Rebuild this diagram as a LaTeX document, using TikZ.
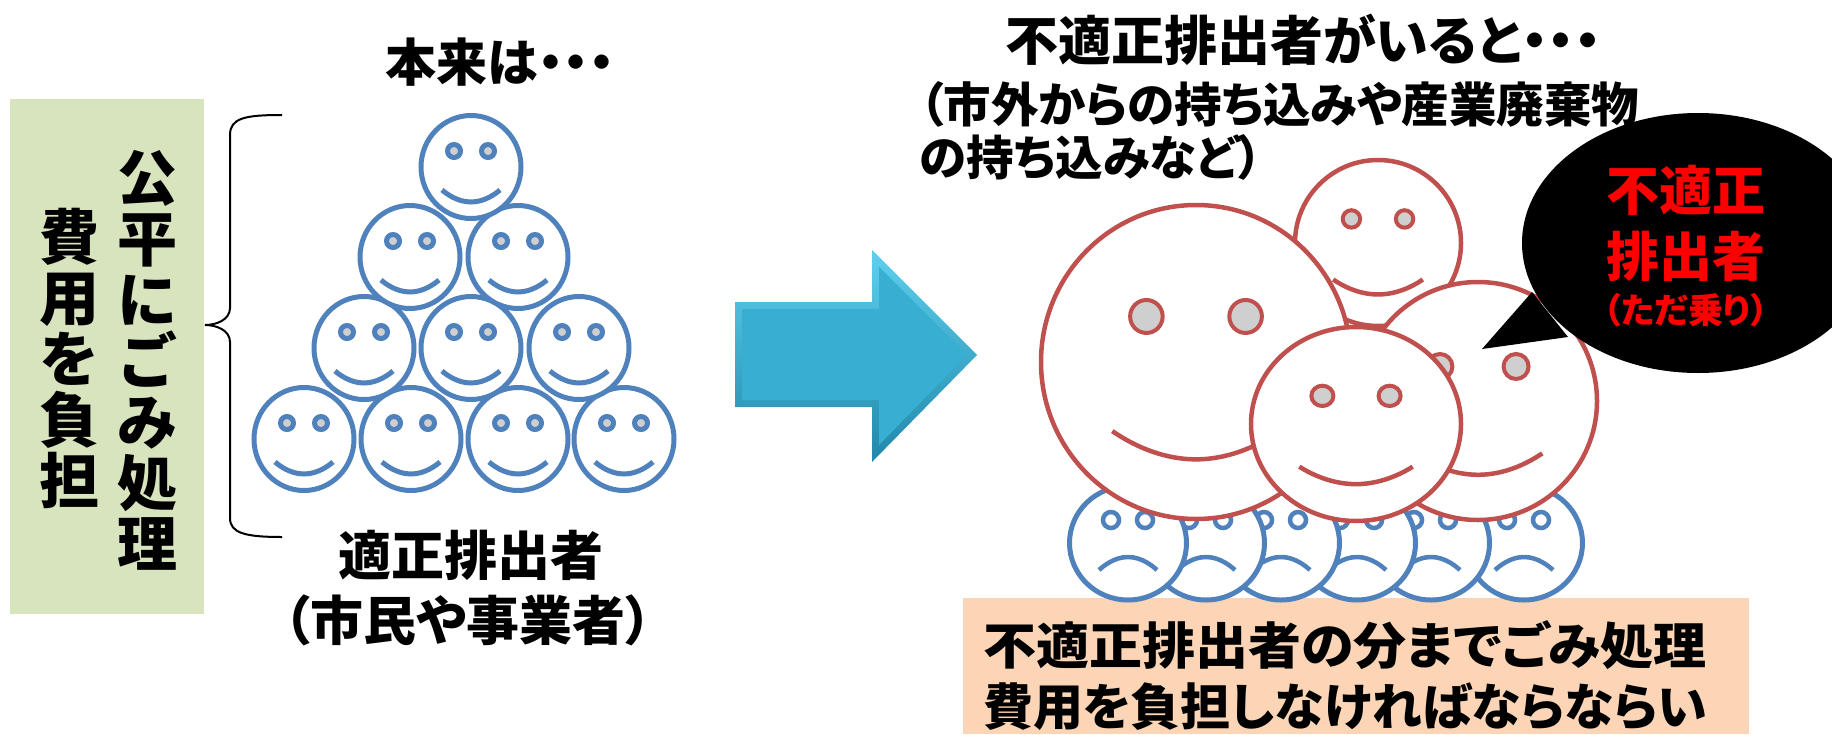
\documentclass[tikz,border=0pt]{standalone}
\usepackage{fontspec}
\newfontfamily\jp[RawFeature=+palt]{Noto Sans CJK JP Black}

\definecolor{boxgreen}{HTML}{D7E4BD}
\definecolor{faceblue}{HTML}{4F81BD}
\definecolor{facered}{HTML}{C0504D}
\definecolor{eyegray}{HTML}{CFCFCF}
\definecolor{boxpeach}{HTML}{FBD5B5}
\definecolor{arrowlight}{HTML}{5ED0EE}
\definecolor{arrowmain}{HTML}{38AED2}
\definecolor{arrowdark}{HTML}{2187AA}
\definecolor{freeride}{HTML}{FF0000}

\tikzset{
  txt/.style={inner sep=0pt, outer sep=0pt, text=black},
  blueline/.style={draw=faceblue, line width=5pt},
  redline/.style={draw=facered, line width=4.5pt},
  % smiling face of the pyramid
  pics/happyblue/.style={code={
    \draw[blueline, fill=white] (0,0) ellipse[x radius=50, y radius=51.5];
    \draw[blueline, fill=eyegray] (-17,-16) circle[radius=6.5];
    \draw[blueline, fill=eyegray] (17,-16) circle[radius=6.5];
    \draw[blueline] (-29,23) parabola bend (0,35) (29,23);
  }},
  % sad face crushed underneath
  pics/sadblue/.style={code={
    \draw[blueline, fill=white] (0,0) ellipse[x radius=58.5, y radius=57];
    \draw[blueline, line width=4.5pt, fill=white] (-17,-23) circle[radius=8];
    \draw[blueline, line width=4.5pt, fill=white] (17,-23) circle[radius=8];
    \draw[blueline, line width=4.5pt] (-29,27) parabola bend (0,14) (29,27);
  }},
  % big grinning face, drawn in unit size and scaled
  pics/redface/.style={code={
    \draw[redline, fill=white] (0,0) circle[radius=1];
    \draw[redline, line width=4pt, fill=eyegray] (-0.32,-0.29) circle[radius=0.105];
    \draw[redline, line width=4pt, fill=eyegray] (0.32,-0.29) circle[radius=0.105];
    \draw[redline] (-0.54,0.44) parabola bend (0,0.62) (0.54,0.44);
  }},
}

\begin{document}
\begin{tikzpicture}[x=1pt, y=-1pt]
\useasboundingbox (0,0) rectangle (1832,734);

% ---------- left panel ----------
\fill[boxgreen] (10,99) rectangle (204,614);
\node[txt, font=\jp\fontsize{60}{61}\selectfont, align=center] (colright) at (147,360)
  {公\\平\\に\\ご\\み\\処\\理};
\node[txt, font=\jp\fontsize{60}{61}\selectfont, align=center] (colleft) at (69,358)
  {費\\用\\を\\負\\担};

% curly brace
\draw[black, line width=2pt]
  (282,115) .. controls (245,115) and (230,118) .. (230,135)
  -- (230,308) .. controls (230,320) and (216,325) .. (205,325)
  .. controls (216,325) and (230,330) .. (230,342)
  -- (230,518) .. controls (230,533) and (245,537) .. (282,537);

\node[txt, font=\jp\fontsize{51}{51}\selectfont] (honrai) at (500,62) {本来は・・・};

% pyramid of honest dischargers
\foreach \px in {304,411,518,624} \pic at (\px,439) {happyblue};
\foreach \px in {364,471,579} \pic at (\px,348) {happyblue};
\foreach \px in {410,518} \pic at (\px,257) {happyblue};
\pic at (471,167) {happyblue};

\node[txt, font=\jp\fontsize{53}{53}\selectfont] (tekisei) at (471,555) {適正排出者};
\node[txt, font=\jp\fontsize{53}{53}\selectfont] (shimin) at (468,620) {（市民や事業者）};

% ---------- arrow ----------
\shade[top color=arrowlight, bottom color=arrowdark]
  (735,302) -- (872,302) -- (872,250) -- (977,355) -- (872,462) -- (872,407) -- (735,407) -- cycle;
\fill[arrowmain]
  (742,309) -- (879,309) -- (879,267) -- (967,355) -- (879,445) -- (879,400) -- (742,400) -- cycle;

% ---------- right panel ----------
\fill[boxpeach] (963,598) rectangle (1749,734);

\foreach \px in {1524,1431,1357,1281,1206,1128} \pic at (\px,543) {sadblue};

\pic[scale=83] at (1378,243) {redface};
\pic[xscale=155, yscale=157] at (1196,362) {redface};
\pic[scale=119] at (1478,401) {redface};
\pic[xscale=105, yscale=97] at (1356,424) {redface};

% speech bubble
\fill[black] (1698,243) ellipse[x radius=176, y radius=130];
\fill[black] (1532,292) -- (1482,349) -- (1568,337) -- cycle;
\node[txt, text=freeride, font=\jp\fontsize{53}{53}\selectfont] (bub1) at (1686,190) {不適正};
\node[txt, text=freeride, font=\jp\fontsize{53}{53}\selectfont] (bub2) at (1686,256) {排出者};
\node[txt, text=freeride, font=\jp\fontsize{35}{35}\selectfont] (bub3) at (1686,310) {（ただ乗り）};

\node[txt, font=\jp\fontsize{53}{53}\selectfont] (title) at (1303,40) {不適正排出者がいると・・・};
\node[txt, font=\jp\fontsize{47.5}{47.5}\selectfont, anchor=west] (note1) at (920,104) {（市外からの持ち込みや産業廃棄物};
\node[txt, font=\jp\fontsize{47.5}{47.5}\selectfont, anchor=west] (note2) at (920,157) {の持ち込みなど）};

\node[txt, font=\jp\fontsize{50}{50}\selectfont, anchor=west] (burden1) at (983,645)
  {\scalebox{1.06}[1]{不適正排出者の分までごみ処理}};
\node[txt, font=\jp\fontsize{50}{50}\selectfont, anchor=west] (burden2) at (983,707) {費用を負担しなければならならい};
\end{tikzpicture}
\end{document}
